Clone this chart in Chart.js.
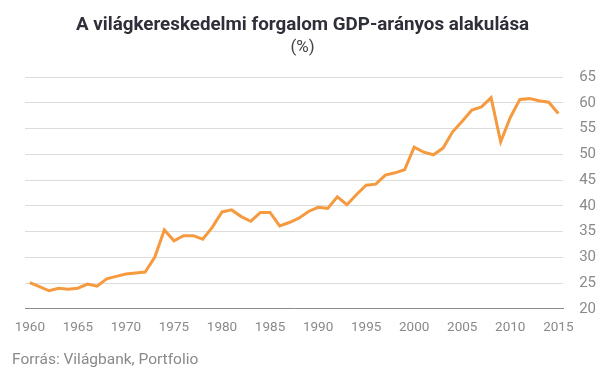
<!DOCTYPE html>
<html>
<head>
<meta charset="utf-8">
<script src="https://cdn.jsdelivr.net/npm/chart.js@4"></script>
<style>
  html, body { margin: 0; padding: 0; background: #fff; }
  #wrap { width: 605px; height: 378px; }
</style>
</head>
<body>
<div id="wrap"><canvas id="trade__chart" width="605" height="378"></canvas></div>
<script>
const FONT = "Roboto, 'Open Sans', sans-serif"

const years = [
  1960, 1961, 1962, 1963, 1964, 1965, 1966, 1967, 1968, 1969,
  1970, 1971, 1972, 1973, 1974, 1975, 1976, 1977, 1978, 1979,
  1980, 1981, 1982, 1983, 1984, 1985, 1986, 1987, 1988, 1989,
  1990, 1991, 1992, 1993, 1994, 1995, 1996, 1997, 1998, 1999,
  2000, 2001, 2002, 2003, 2004, 2005, 2006, 2007, 2008, 2009,
  2010, 2011, 2012, 2013, 2014, 2015
]
const tradeShare = [
  25.1, 24.3, 23.5, 24.0, 23.8, 24.0, 24.8, 24.4, 25.8, 26.3,
  26.75, 26.95, 27.15, 30.0, 35.3, 33.2, 34.2, 34.2, 33.5, 35.85,
  38.8, 39.2, 37.9, 37.0, 38.7, 38.7, 36.1, 36.75, 37.6, 38.9,
  39.7, 39.5, 41.75, 40.2, 42.2, 44.0, 44.2, 45.95, 46.4, 47.0,
  51.4, 50.4, 49.9, 51.2, 54.35, 56.4, 58.6, 59.2, 61.0, 52.4,
  57.15, 60.65, 60.8, 60.4, 60.1, 57.9
]
const yTicks = [20, 25, 30, 35, 40, 45, 50, 55, 60, 65]

const titleText = 'A világkereskedelmi forgalom GDP-arányos alakulása'
const subtitleText = '(%)'
const footerText = 'Forrás: Világbank, Portfolio'

// title, subtitle and source line drawn straight on the canvas, centred on the page
const textPlugin = {
  id: 'pageText',
  afterDraw(chart) {
    const {ctx, width} = chart
    ctx.save()
    ctx.textBaseline = 'alphabetic'
    ctx.textAlign = 'center'
    ctx.font = 'bold 18.8px ' + FONT
    ctx.fillStyle = '#2f2f3a'
    ctx.fillText(titleText, width / 2, 30)
    ctx.font = '17px ' + FONT
    ctx.fillStyle = '#444'
    ctx.fillText(subtitleText, width / 2, 52)
    ctx.textAlign = 'left'
    ctx.textBaseline = 'middle'
    ctx.font = '15.5px ' + FONT
    ctx.fillStyle = '#8a8a8a'
    ctx.fillText(footerText, 12, 360)
    ctx.restore()
  }
}

const ctx = document.getElementById('trade__chart').getContext('2d')
new Chart(ctx, {
  type: 'line',
  data: {
    labels: years,
    datasets: [{
      label: 'Világkereskedelem / GDP',
      data: tradeShare,
      borderColor: '#F69A40',
      borderWidth: 3,
      pointRadius: 0,
      tension: 0,
      fill: false
    }]
  },
  options: {
    responsive: false,
    animation: false,
    layout: {padding: {left: 25, right: -7, top: 77, bottom: 31}},
    plugins: {
      legend: {display: false},
      tooltip: {enabled: false},
      title: {display: false}
    },
    scales: {
      x: {
        type: 'category',
        offset: true,
        grid: {display: false, drawTicks: false},
        border: {display: true, color: '#8c8c8c', width: 1},
        ticks: {
          autoSkip: false,
          maxRotation: 0,
          padding: 11,
          color: '#8a8a8a',
          font: {family: FONT, size: 13.5},
          callback(value) {
            const y = years[value]
            return y % 5 === 0 ? String(y) : ''
          }
        }
      },
      y: {
        position: 'right',
        min: 20,
        max: 65,
        afterBuildTicks(axis) {
          axis.ticks = yTicks.map(v => ({value: v}))
        },
        grid: {color: '#dcdcdc', lineWidth: 1, drawTicks: false},
        border: {display: false},
        ticks: {
          padding: 16,
          color: '#8a8a8a',
          font: {family: FONT, size: 15}
        }
      }
    }
  },
  plugins: [textPlugin]
})
</script>
</body>
</html>
